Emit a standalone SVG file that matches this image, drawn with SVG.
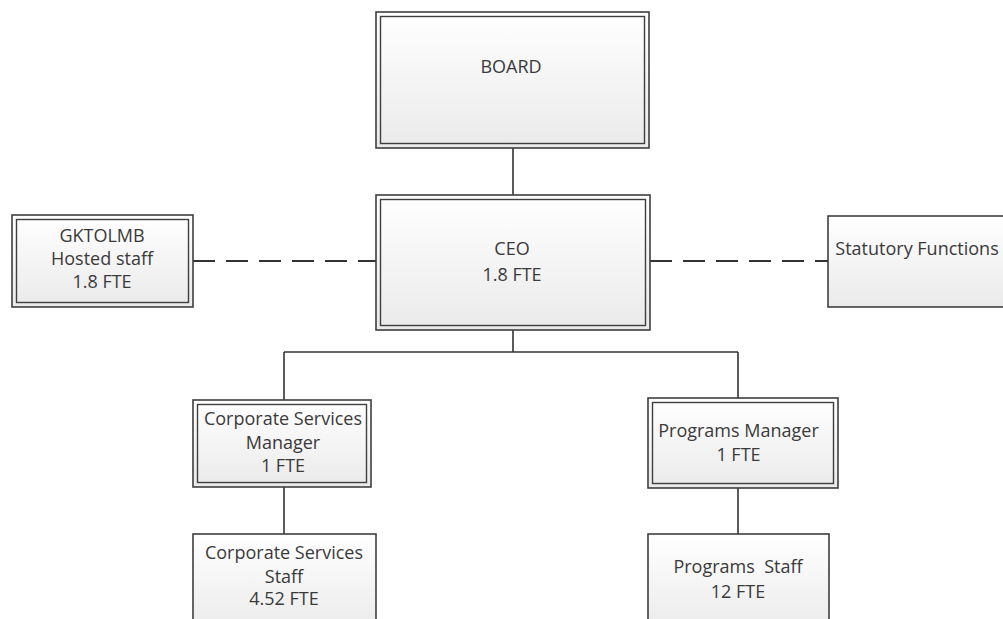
<svg xmlns="http://www.w3.org/2000/svg" width="1003" height="619" viewBox="0 0 1003 619">
<defs>
<linearGradient id="g" x1="0" y1="0" x2="0" y2="1">
<stop offset="0" stop-color="#ffffff"/>
<stop offset="1" stop-color="#eaeaea"/>
</linearGradient>
<style>
.box{fill:url(#g);stroke:#3f3f3f;stroke-width:1.6}
.inner{fill:none;stroke:#3f3f3f;stroke-width:1.4}
.shadow{fill:#e4e4e4;opacity:0.6}
.t{font-family:"Open Sans","Noto Sans",sans-serif;font-size:18px;fill:#3a3a3a;text-anchor:middle}
.c{stroke:#333;stroke-width:1.6;fill:none}
.d{stroke:#333;stroke-width:1.8;fill:none;stroke-dasharray:22 11}
</style>
</defs>
<rect width="1003" height="619" fill="#ffffff"/>
<g id="connectors">
<line class="c" x1="513" y1="148" x2="513" y2="195"/>
<line class="c" x1="513" y1="330" x2="513" y2="352"/>
<line class="c" x1="284" y1="352" x2="738" y2="352"/>
<line class="c" x1="284" y1="352" x2="284" y2="400"/>
<line class="c" x1="738" y1="352" x2="738" y2="398"/>
<line class="c" x1="284" y1="487" x2="284" y2="534"/>
<line class="c" x1="738" y1="488" x2="738" y2="534"/>
<line class="d" x1="193" y1="261" x2="376" y2="261"/>
<line class="d" x1="650" y1="261" x2="828" y2="261"/>
</g>
<g id="board">
<rect class="box" x="376" y="12" width="273" height="136"/>
<rect class="inner" x="380.5" y="16.5" width="264" height="127"/>
<text class="t" x="511" y="73">BOARD</text>
</g>
<g id="ceo">
<rect class="box" x="376" y="195" width="274" height="135"/>
<rect class="inner" x="380.5" y="199.5" width="265" height="126"/>
<text class="t" x="512" y="255">CEO</text>
<text class="t" x="512" y="281">1.8 FTE</text>
</g>
<g id="gktolmb">
<rect class="box" x="12" y="215" width="181" height="92"/>
<rect class="inner" x="16.5" y="219.5" width="172" height="83"/>
<text class="t" x="102" y="242">GKTOLMB</text>
<text class="t" x="102" y="265">Hosted staff</text>
<text class="t" x="102" y="288">1.8 FTE</text>
</g>
<g id="statutory">
<rect class="box" x="828" y="216" width="185" height="91"/>
<text class="t" x="917" y="255">Statutory Functions</text>
</g>
<g id="csm">
<rect class="box" x="193" y="400" width="178" height="87"/>
<rect class="inner" x="197.5" y="404.5" width="169" height="78"/>
<text class="t" x="283" y="425">Corporate Services</text>
<text class="t" x="283" y="449">Manager</text>
<text class="t" x="283" y="472">1 FTE</text>
</g>
<g id="pm">
<rect class="box" x="648" y="398" width="190" height="90"/>
<rect class="inner" x="652.5" y="402.5" width="181" height="81"/>
<text class="t" x="738.5" y="437">Programs Manager</text>
<text class="t" x="738.5" y="461">1 FTE</text>
</g>
<g id="css">
<rect class="box" x="193" y="534" width="183" height="100"/>
<text class="t" x="284" y="559">Corporate Services</text>
<text class="t" x="284" y="583">Staff</text>
<text class="t" x="284" y="605">4.52 FTE</text>
</g>
<g id="ps">
<rect class="box" x="648" y="534" width="181" height="100"/>
<text class="t" x="738" y="573" xml:space="preserve" style="white-space:pre">Programs  Staff</text>
<text class="t" x="738" y="598">12 FTE</text>
</g>
</svg>
